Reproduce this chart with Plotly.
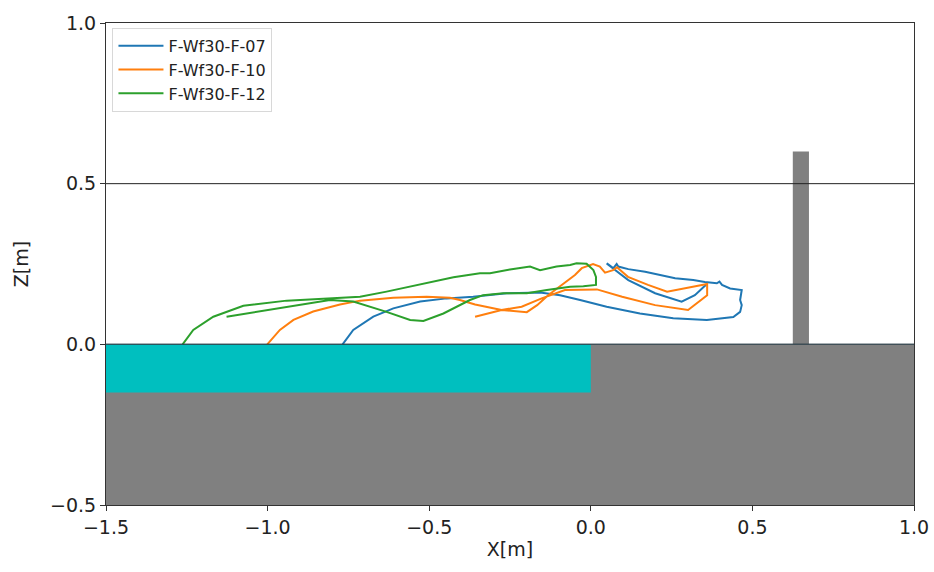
import plotly.graph_objects as go

# ---- data ----
series_names = ["F-Wf30-F-07", "F-Wf30-F-10", "F-Wf30-F-12"]
series_colors = ["#1f77b4", "#ff7f0e", "#2ca02c"]

x_07 = [-0.768, -0.735, -0.673, -0.611, -0.528, -0.446, -0.364, -0.260, -0.157, -0.095,
        -0.033, 0.049, 0.152, 0.255, 0.359, 0.441, 0.462, 0.467, 0.462, 0.467,
        0.431, 0.406, 0.398, 0.390, 0.353, 0.317, 0.261, 0.219, 0.168, 0.116,
        0.085, 0.080, 0.070, 0.054, 0.049, 0.059, 0.116, 0.199, 0.281, 0.322, 0.359]
z_07 = [0.000, 0.045, 0.086, 0.112, 0.133, 0.143, 0.148, 0.159, 0.161, 0.153,
        0.138, 0.117, 0.096, 0.081, 0.076, 0.085, 0.101, 0.122, 0.138, 0.169,
        0.174, 0.185, 0.195, 0.190, 0.194, 0.200, 0.206, 0.216, 0.226, 0.234,
        0.242, 0.250, 0.237, 0.249, 0.252, 0.244, 0.200, 0.159, 0.133, 0.153, 0.188]

x_10 = [-1.001, -0.962, -0.920, -0.859, -0.776, -0.714, -0.611, -0.508, -0.436, -0.405,
        -0.358, -0.276, -0.198, -0.166, -0.132, -0.080, -0.049, -0.028, 0.007, 0.028,
        0.044, 0.069, 0.081, 0.115, 0.177, 0.236, 0.291, 0.360, 0.360, 0.301,
        0.199, 0.097, 0.019, -0.080, -0.152, -0.214, -0.276, -0.358]
z_10 = [0.000, 0.045, 0.076, 0.102, 0.124, 0.136, 0.145, 0.148, 0.145, 0.138,
        0.124, 0.107, 0.100, 0.122, 0.153, 0.191, 0.216, 0.237, 0.250, 0.242,
        0.223, 0.231, 0.240, 0.210, 0.185, 0.164, 0.174, 0.188, 0.153, 0.107,
        0.122, 0.148, 0.171, 0.169, 0.143, 0.117, 0.107, 0.086]

x_12 = [-1.263, -1.230, -1.168, -1.075, -0.941, -0.807, -0.714, -0.632, -0.518, -0.425,
        -0.343, -0.312, -0.250, -0.188, -0.157, -0.106, -0.064, -0.044, -0.013, 0.008,
        0.016, 0.016, -0.023, -0.064, -0.136, -0.198, -0.271, -0.333, -0.374, -0.394,
        -0.456, -0.518, -0.559, -0.632, -0.735, -0.807, -1.127]
z_12 = [0.000, 0.045, 0.086, 0.120, 0.136, 0.143, 0.148, 0.164, 0.190, 0.209,
        0.221, 0.221, 0.233, 0.242, 0.231, 0.242, 0.247, 0.252, 0.251, 0.231,
        0.210, 0.185, 0.181, 0.179, 0.169, 0.159, 0.159, 0.153, 0.138, 0.128,
        0.096, 0.073, 0.076, 0.101, 0.133, 0.138, 0.086]

# geometry of the flume (data units)
x_range = [-1.5, 1.0]
z_range = [-0.5, 1.0]
basin_x = [-1.5, 0.0]
basin_bottom = -0.15
ground_top = 0.0
pillar_x = [0.625, 0.675]
pillar_top = 0.6
ref_level = 0.5
x_ticks = [-1.5, -1.0, -0.5, 0.0, 0.5, 1.0]
z_ticks = [-0.5, 0.0, 0.5, 1.0]

xs = [x_07, x_10, x_12]
zs = [z_07, z_10, z_12]

fig = go.Figure()
for name, color, x, z in zip(series_names, series_colors, xs, zs):
    fig.add_trace(go.Scatter(x=x, y=z, mode="lines", name=name,
                             line=dict(color=color, width=2)))

shapes = [
    dict(type="rect", xref="x", yref="y", x0=x_range[0], x1=x_range[1],
         y0=z_range[0], y1=ground_top, fillcolor="#808080", line=dict(width=0), layer="below"),
    dict(type="rect", xref="x", yref="y", x0=basin_x[0], x1=basin_x[1],
         y0=basin_bottom, y1=ground_top, fillcolor="#00BFBF", line=dict(width=0), layer="below"),
    dict(type="rect", xref="x", yref="y", x0=pillar_x[0], x1=pillar_x[1],
         y0=ground_top, y1=pillar_top, fillcolor="#808080", line=dict(width=0), layer="below"),
    dict(type="line", xref="x", yref="y", x0=x_range[0], x1=x_range[1],
         y0=ref_level, y1=ref_level, line=dict(color="#222222", width=1)),
    dict(type="line", xref="x", yref="y", x0=x_range[0], x1=x_range[1],
         y0=ground_top, y1=ground_top, line=dict(color="rgba(40,60,70,0.8)", width=1.5)),
]

font_family = "DejaVu Sans"
fig.update_layout(
    width=934, height=572,
    margin=dict(l=106, r=20, t=23, b=67, autoexpand=False),
    paper_bgcolor="white", plot_bgcolor="white",
    font=dict(family=font_family, size=19, color="#222222"),
    shapes=shapes,
    showlegend=True,
    legend=dict(x=0.008, y=0.99, xanchor="left", yanchor="top",
                bgcolor="rgba(255,255,255,0.9)", bordercolor="#d8d8d8", borderwidth=1,
                font=dict(family=font_family, size=16, color="#222222"),
                itemwidth=45, tracegroupgap=0),
    xaxis=dict(range=x_range, tickvals=x_ticks, tickformat=".1f", automargin=False,
               showgrid=False, zeroline=False, showline=True, mirror=True,
               linecolor="#333333", linewidth=1, ticks="outside", ticklen=5,
               tickcolor="#333333",
               title=dict(text="X[m]", standoff=5, font=dict(size=19))),
    yaxis=dict(range=z_range, tickvals=z_ticks, tickformat=".1f", automargin=False,
               showgrid=False, zeroline=False, showline=True, mirror=True,
               linecolor="#333333", linewidth=1, ticks="outside", ticklen=5,
               tickcolor="#333333",
               title=dict(text="Z[m]", standoff=16, font=dict(size=19))),
)

fig.write_html("out.html", config={"displayModeBar": False},
               post_script="document.body.style.margin='0';document.body.style.overflow='hidden';")
